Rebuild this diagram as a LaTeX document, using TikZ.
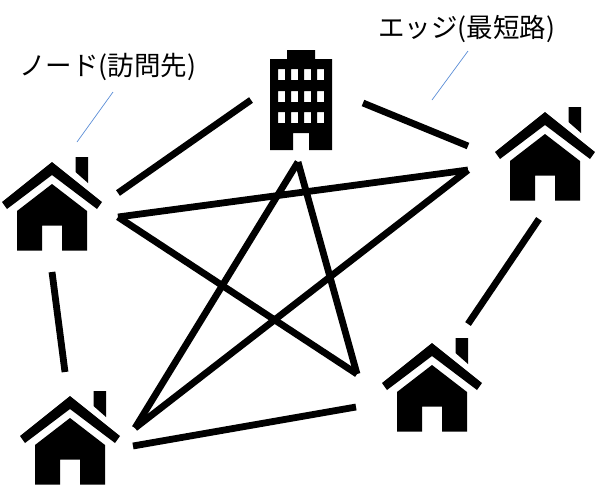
\documentclass[tikz,border=0pt]{standalone}
\usepackage{fontspec}
\newfontfamily\jpfont{Noto Sans CJK JP}
\tikzset{
  edgeline/.style={line width=6.8pt, black, line cap=butt},
  noteline/.style={line width=0.7pt, color=notecolor},
  notelabel/.style={font=\jpfont\fontsize{26.5}{30}\selectfont, inner sep=0pt},
  house/.pic={
    % roof
    \fill (0,0) -- (50,40) -- (45,47) -- (0,13) -- (-45,47) -- (-50,40) -- cycle;
    % chimney
    \fill (23.5,-5) -- (36,-5) -- (36,21) -- (23.5,10) -- cycle;
    % body with door
    \fill (0,22) -- (35,49) -- (35,88.5) -- (10,88.5) -- (10,63.5) -- (-10,63.5) -- (-10,88.5) -- (-35,88.5) -- (-35,49) -- cycle;
  }
}
\definecolor{notecolor}{RGB}{91,141,214}
\begin{document}
\begin{tikzpicture}[x=1pt, y=-1pt]
  \useasboundingbox (0,0) rectangle (595,488);

  % Houses
  \pic at (52,162) {house};
  \pic at (545,112) {house};
  \pic at (70,396) {house};
  \pic at (432,343) {house};

  % Office building
  \fill[even odd rule] (270,150) -- (270,59) -- (287,59) -- (287,50) -- (315,50) -- (315,59) -- (332,59) -- (332,150) -- (309,150) -- (309,133) -- (293,133) -- (293,150) -- cycle
    \foreach \wy in {69,91,112} {
      \foreach \wx in {278,291,304,317} {
        (\wx,\wy) rectangle ++(7,11)
      }
    };

  % Edge end points
  \coordinate (leftA) at (118,193);
  \coordinate (leftB) at (118,217);
  \coordinate (leftC) at (52,272);
  \coordinate (officeA) at (251,100);
  \coordinate (officeB) at (363,103);
  \coordinate (officeC) at (298,162);
  \coordinate (rightA) at (468,146);
  \coordinate (rightB) at (468,170);
  \coordinate (rightC) at (539,219);
  \coordinate (lowerA) at (65,372);
  \coordinate (lowerB) at (135,428);
  \coordinate (lowerC) at (133,446);
  \coordinate (lowerD) at (356,407);
  \coordinate (lowerE) at (468,324);
  \coordinate (lowerF) at (357,374);

  % Edges
  \draw[edgeline] (leftA) -- (officeA);
  \draw[edgeline] (officeB) -- (rightA);
  \draw[edgeline] (leftC) -- (lowerA);
  \draw[edgeline] (rightC) -- (lowerE);
  \draw[edgeline] (lowerC) -- (lowerD);
  \draw[edgeline] (leftB) -- (rightB);
  \draw[edgeline] (leftB) -- (lowerF);
  \draw[edgeline] (rightB) -- (lowerB);
  \draw[edgeline] (officeC) -- (lowerB);
  \draw[edgeline] (officeC) -- (lowerF);

  % Labels
  \node[notelabel, anchor=west] (nodelabel) at (19,67) {ノード(訪問先)};
  \node[notelabel, anchor=west] (edgelabel) at (378,29) {エッジ(最短路)};
  \coordinate (nodenote) at (77,142);
  \coordinate (edgenote) at (432,100);
  \coordinate (nodetop) at (113,92);
  \coordinate (edgetop) at (468,51);
  \draw[noteline] (nodetop) -- (nodenote);
  \draw[noteline] (edgetop) -- (edgenote);
\end{tikzpicture}
\end{document}
